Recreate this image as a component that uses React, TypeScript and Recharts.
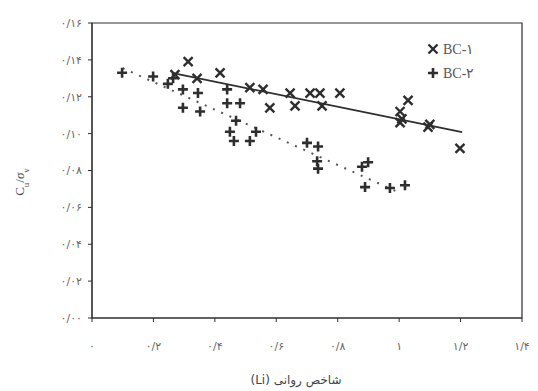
import React from "react"
import {
  ReferenceArea,
  Scatter,
  ScatterChart,
  XAxis,
  YAxis,
} from "recharts"

// BC-1 samples (x = liquidity index, y = Cu / sigma_v)
const bc1Points = [
  { x: 0.27, y: 0.132 },
  { x: 0.313, y: 0.139 },
  { x: 0.342, y: 0.13 },
  { x: 0.417, y: 0.133 },
  { x: 0.514, y: 0.125 },
  { x: 0.557, y: 0.124 },
  { x: 0.579, y: 0.114 },
  { x: 0.645, y: 0.122 },
  { x: 0.661, y: 0.115 },
  { x: 0.71, y: 0.122 },
  { x: 0.742, y: 0.122 },
  { x: 0.749, y: 0.115 },
  { x: 0.807, y: 0.122 },
  { x: 1.029, y: 0.118 },
  { x: 1.003, y: 0.112 },
  { x: 1.009, y: 0.108 },
  { x: 1.003, y: 0.106 },
  { x: 1.094, y: 0.1035 },
  { x: 1.1, y: 0.105 },
  { x: 1.198, y: 0.092 },
]

// BC-2 samples
const bc2Points = [
  { x: 0.098, y: 0.133 },
  { x: 0.199, y: 0.131 },
  { x: 0.247, y: 0.127 },
  { x: 0.264, y: 0.13 },
  { x: 0.296, y: 0.124 },
  { x: 0.345, y: 0.122 },
  { x: 0.296, y: 0.114 },
  { x: 0.352, y: 0.112 },
  { x: 0.44, y: 0.124 },
  { x: 0.44, y: 0.1165 },
  { x: 0.482, y: 0.1165 },
  { x: 0.469, y: 0.107 },
  { x: 0.449, y: 0.101 },
  { x: 0.462, y: 0.096 },
  { x: 0.514, y: 0.096 },
  { x: 0.534, y: 0.101 },
  { x: 0.7, y: 0.095 },
  { x: 0.736, y: 0.093 },
  { x: 0.733, y: 0.085 },
  { x: 0.736, y: 0.081 },
  { x: 0.879, y: 0.082 },
  { x: 0.899, y: 0.0845 },
  { x: 0.889, y: 0.071 },
  { x: 0.97, y: 0.0705 },
  { x: 1.019, y: 0.072 },
]

// fitted trend lines (end points)
const bc1Trend = [
  { x: 0.264, y: 0.1328 },
  { x: 1.205, y: 0.1008 },
]
const bc2Trend = [
  { x: 0.1, y: 0.1355 },
  { x: 1.0, y: 0.068 },
]

const xTicks = [0, 0.2, 0.4, 0.6, 0.8, 1, 1.2, 1.4]
const yTicks = [0, 0.02, 0.04, 0.06, 0.08, 0.1, 0.12, 0.14, 0.16]
const seriesNames = ["BC-۱", "BC-۲"]

const faDigits = "۰۱۲۳۴۵۶۷۸۹"
const toFa = (s: string) =>
  s.replace(/\d/g, (d) => faDigits[Number(d)]).replace(".", "/")

const INK = "#2e2e2e"

const XMark = (props: any) => {
  const { cx, cy } = props
  if (cx == null || cy == null) return <g />
  const r = 4.5
  return (
    <path
      d={`M${cx - r},${cy - r}L${cx + r},${cy + r}M${cx + r},${cy - r}L${cx - r},${cy + r}`}
      stroke={INK}
      strokeWidth={2.4}
    />
  )
}

const PlusMark = (props: any) => {
  const { cx, cy } = props
  if (cx == null || cy == null) return <g />
  const r = 5
  return (
    <path
      d={`M${cx - r},${cy}L${cx + r},${cy}M${cx},${cy - r}L${cx},${cy + r}`}
      stroke={INK}
      strokeWidth={2.6}
    />
  )
}

const NoMark = () => <g />

// legend drawn as an overlay so it does not shrink the plot
const LegendBox = () => (
  <div
    style={{
      position: "absolute",
      left: 427,
      top: 37,
      fontFamily: "'Liberation Serif', serif",
      fontSize: 14,
      color: "#555",
    }}
  >
    {seriesNames.map((name, i) => (
      <div key={name} style={{ display: "flex", alignItems: "center", height: 24 }}>
        <svg width={16} height={14}>
          {i === 0 ? <XMark cx={6} cy={7} /> : <PlusMark cx={6} cy={7} />}
        </svg>
        <span>{name}</span>
      </div>
    ))}
  </div>
)

const YLabel = () => (
  <text
    x={24}
    y={182}
    transform="rotate(-90 24 182)"
    textAnchor="middle"
    fontFamily="'Liberation Serif', serif"
    fontSize={13}
    fill="#444"
  >
    C
    <tspan fontSize={9} baselineShift="sub">u</tspan>
    <tspan>/</tspan>
    <tspan fontStyle="italic">σ</tspan>
    <tspan fontSize={9} baselineShift="sub">v</tspan>
  </text>
)

const XLabel = () => (
  <text
    x={296}
    y={384}
    textAnchor="middle"
    direction="rtl"
    fontFamily="'DejaVu Sans', sans-serif"
    fontSize={12}
    fill="#444"
  >
    شاخص روانی (Li)
  </text>
)

export default function App() {
  const tickStyle = { fontFamily: "'DejaVu Sans', sans-serif", fontSize: 11, fill: "#666" }
  return (
    <div style={{ position: "absolute", left: 0, top: 0, width: 538, height: 391, background: "#fff" }}>
      <ScatterChart width={538} height={391} margin={{ top: 23, right: 16, bottom: 33, left: 0 }}>
        <XAxis
          type="number"
          dataKey="x"
          domain={[0, 1.4]}
          ticks={xTicks}
          tickFormatter={(v: number) => toFa(String(Number(v.toFixed(1))))}
          tick={tickStyle}
          tickSize={4}
          tickMargin={20}
          height={40}
          stroke={INK}
          label={{ content: () => <XLabel /> }}
        />
        <YAxis
          type="number"
          dataKey="y"
          domain={[0, 0.16]}
          ticks={yTicks}
          tickFormatter={(v: number) => toFa(v.toFixed(2))}
          tick={tickStyle}
          tickSize={4}
          tickMargin={6}
          width={92}
          stroke={INK}
          label={{ content: () => <YLabel /> }}
        />
        <ReferenceArea x1={0} x2={1.4} y1={0} y2={0.16} fill="none" stroke={INK} strokeWidth={1.2} />
        <Scatter
          name="BC-1 trend"
          data={bc1Trend}
          shape={NoMark}
          line={{ stroke: INK, strokeWidth: 1.6 }}
          legendType="none"
          isAnimationActive={false}
        />
        <Scatter
          name="BC-2 trend"
          data={bc2Trend}
          shape={NoMark}
          line={{ stroke: "#555", strokeWidth: 2, strokeDasharray: "2 7" }}
          legendType="none"
          isAnimationActive={false}
        />
        <Scatter name={seriesNames[0]} data={bc1Points} shape={XMark} isAnimationActive={false} />
        <Scatter name={seriesNames[1]} data={bc2Points} shape={PlusMark} isAnimationActive={false} />
      </ScatterChart>
      <LegendBox />
    </div>
  )
}
